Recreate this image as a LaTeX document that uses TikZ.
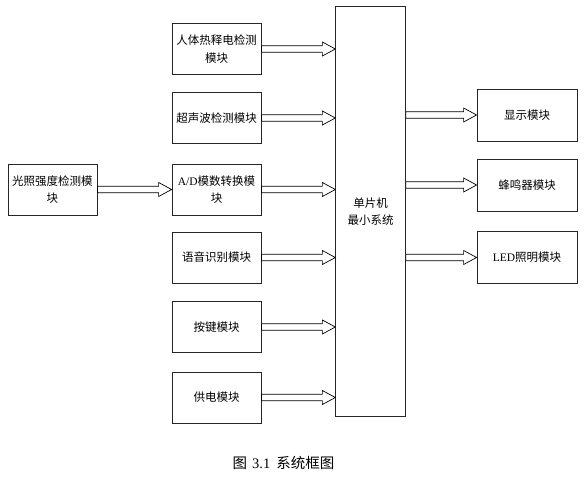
\documentclass[tikz,border=0pt]{standalone}
\usepackage{fontspec}
\setmainfont{Liberation Serif}
\newfontfamily\cjk{Noto Sans CJK SC}
\usepackage{tikz}
\usetikzlibrary{calc,positioning}
\newcommand\lat[1]{{\rmfamily #1}}
% hollow block arrow between two points, height taken from the start point
\newcommand\harrow[2]{%
  \draw[hollow] let \p1=(#1), \p2=(#2) in
    (\x1,\y1+3.3pt) -- (\x2-13pt,\y1+3.3pt) -- (\x2-13pt,\y1+7pt) -- (\x2,\y1)
    -- (\x2-13pt,\y1-7pt) -- (\x2-13pt,\y1-3.3pt) -- (\x1,\y1-3.3pt) -- cycle;}

\begin{document}
\begin{tikzpicture}[x=1pt, y=-1pt,
  font={\cjk\fontsize{11.5}{17.5}\selectfont},
  modbox/.style={draw=black!85, line width=0.8pt, align=center, inner sep=0pt,
                 minimum width=89pt, minimum height=51pt},
  outbox/.style={modbox, minimum width=100pt, minimum height=52pt},
  hollow/.style={draw=black, line width=0.7pt, fill=white, line join=miter}]
  \useasboundingbox (0,0) rectangle (586,485);
  % controller
  \node[draw=black!85, line width=0.8pt, align=center, inner sep=0pt,
        minimum width=69.5pt, minimum height=410pt] (mcu) at (370.5,211.5) {单片机\\最小系统};
  % input modules
  \node[modbox] (pir)   at (216.5,49)    {人体热释电检测\\模块};
  \node[modbox] (ultra) at (216.5,118)   {超声波检测模块};
  \node[modbox] (adc)   at (216.5,189.5) {\lat{A/D}模数转换模\\块};
  \node[modbox] (voice) at (216.5,257.5) {语音识别模块};
  \node[modbox] (key)   at (216.5,327)   {按键模块};
  \node[modbox] (power) at (216.5,397.5) {供电模块};
  \node[modbox] (light) at (52.5,189.5)  {光照强度检测模\\块};
  % output modules
  \node[outbox] (disp) at (527,115)   {显示模块};
  \node[outbox] (buzz) at (527,185)   {蜂鸣器模块};
  \node[outbox] (led)  at (527,257.5) {\lat{LED}照明模块};
  \node[font={\cjk\fontsize{14.5}{17}\selectfont}] (cap) at (283.5,463)
    {图\hspace{5pt}\lat{3.1}\hspace{6pt}系统框图};
  % connections
  \harrow{light.east}{adc.west}
  \foreach \m in {pir,ultra,adc,voice,key,power}
    \harrow{\m.east}{mcu.west |- \m.east};
  \foreach \m in {disp,buzz,led}
    \harrow{mcu.east |- \m.west}{\m.west};
\end{tikzpicture}
\end{document}
